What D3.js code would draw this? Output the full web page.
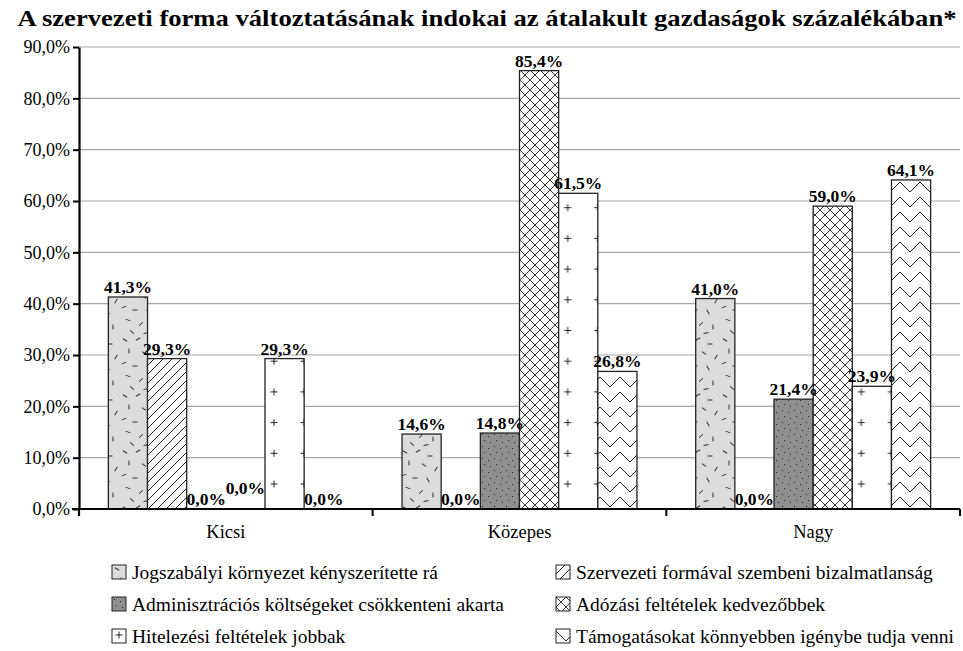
<!DOCTYPE html>
<html>
<head>
<meta charset="utf-8">
<script src="https://cdn.jsdelivr.net/npm/d3@7"></script>
<style>
  html, body { margin: 0; padding: 0; background: #fff; }
  svg { display: block; }
</style>
</head>
<body>
<svg id="chart" width="963" height="651"></svg>
<script>
// Group categories (farm size)
const categories = ["Kicsi", "Közepes", "Nagy"];

// Reasons for changing organisational form (series)
const seriesNames = [
  "Jogszabályi környezet kényszerítette rá",
  "Szervezeti formával szembeni bizalmatlanság",
  "Adminisztrációs költségeket csökkenteni akarta",
  "Adózási feltételek kedvezőbbek",
  "Hitelezési feltételek jobbak",
  "Támogatásokat könnyebben igénybe tudja venni"
];

// Percent values per category, one array per series
const jogszabalyi    = [41.3, 14.6, 41.0];
const bizalmatlansag = [29.3, 0.0, 0.0];
const adminisztracio = [0.0, 14.8, 21.4];
const adozas         = [0.0, 85.4, 59.0];
const hitelezes      = [29.3, 61.5, 23.9];
const tamogatas      = [0.0, 26.8, 64.1];

const yTicks = [0, 10, 20, 30, 40, 50, 60, 70, 80, 90];
const title = "A szervezeti forma változtatásának indokai az átalakult gazdaságok százalékában*";

const seriesValues = [jogszabalyi, bizalmatlansag, adminisztracio, adozas, hitelezes, tamogatas];

const FONT = '"Liberation Serif", "Times New Roman", serif';
const svg = d3.select("#chart");
const plotLeft = 79, plotRight = 960, plotTop = 47, plotBottom = 509;

const x0 = d3.scaleBand().domain(categories).range([plotLeft, plotRight]).paddingInner(0).paddingOuter(0);
const x1 = d3.scaleBand().domain(d3.range(seriesNames.length)).range([0, x0.bandwidth()])
  .paddingInner(0).paddingOuter(0.75);
const y = d3.scaleLinear().domain([0, 90]).range([plotBottom, plotTop]);

const fmt = v => d3.format(".1f")(v).replace(".", ",") + "%";

// ---------- fill patterns ----------
const defs = svg.append("defs");

// 1: light grey with scattered short dashes
const p1 = defs.append("pattern").attr("id", "pat0").attr("patternUnits", "userSpaceOnUse")
  .attr("width", 40).attr("height", 56);
p1.append("rect").attr("width", 40).attr("height", 56).attr("fill", "#dcdcdc");
const dashes = [
  [5, 4, 30], [18, 3, 150], [30, 8, 0], [9, 15, 90], [24, 17, 35], [36, 21, 120],
  [4, 27, 160], [15, 30, 0], [28, 32, 60], [8, 40, 20], [21, 44, 135], [33, 47, 90],
  [12, 52, 40], [26, 53, 170]
];
dashes.forEach(([cx, cy, a]) => {
  p1.append("line").attr("x1", -2.5).attr("x2", 2.5).attr("y1", 0).attr("y2", 0)
    .attr("transform", `translate(${cx},${cy}) rotate(${a})`)
    .attr("stroke", "#333").attr("stroke-width", 1);
});

// 2: forward diagonal hatch
const p2 = defs.append("pattern").attr("id", "pat1").attr("patternUnits", "userSpaceOnUse")
  .attr("width", 9).attr("height", 9);
p2.append("rect").attr("width", 9).attr("height", 9).attr("fill", "#fff");
p2.append("path").attr("d", "M0,9 L9,0 M-2,2 L2,-2 M7,11 L11,7")
  .attr("stroke", "#222").attr("stroke-width", 1);

// 3: dark grey with fine dots
const p3 = defs.append("pattern").attr("id", "pat2").attr("patternUnits", "userSpaceOnUse")
  .attr("width", 12).attr("height", 12);
p3.append("rect").attr("width", 12).attr("height", 12).attr("fill", "#8f8f8f");
[[2, 2], [8, 4], [4, 8], [10, 10]].forEach(([cx, cy]) => {
  p3.append("rect").attr("x", cx).attr("y", cy).attr("width", 1).attr("height", 1).attr("fill", "#222");
});

// 4: diagonal cross-hatch
const p4 = defs.append("pattern").attr("id", "pat3").attr("patternUnits", "userSpaceOnUse")
  .attr("width", 10).attr("height", 10);
p4.append("rect").attr("width", 10).attr("height", 10).attr("fill", "#fff");
p4.append("path").attr("d", "M0,0 L10,10 M0,10 L10,0")
  .attr("stroke", "#222").attr("stroke-width", 0.9);

// 6: zigzag
const p6 = defs.append("pattern").attr("id", "pat5").attr("patternUnits", "userSpaceOnUse")
  .attr("width", 20).attr("height", 15);
p6.append("rect").attr("width", 20).attr("height", 15).attr("fill", "#fff");
p6.append("path").attr("d", "M0,2 L10,12 L20,2 M0,17 L10,27 L20,17 M0,-13 L10,-3 L20,-13")
  .attr("stroke", "#222").attr("stroke-width", 1).attr("fill", "none");

// 5: plus marks, anchored to each bar's left edge
function plusPattern(id, xOff, yOff) {
  const p = defs.append("pattern").attr("id", id).attr("patternUnits", "userSpaceOnUse")
    .attr("x", xOff).attr("y", yOff).attr("width", 30).attr("height", 30.7);
  p.append("rect").attr("width", 30).attr("height", 30.7).attr("fill", "#fff");
  p.append("path").attr("d", "M11.5,15.35 L18.5,15.35 M15,11.85 L15,18.85")
    .attr("stroke", "#222").attr("stroke-width", 1);
}

// ---------- gridlines & axes ----------
svg.append("g").selectAll("line").data(yTicks.filter(t => t > 0)).join("line")
  .attr("x1", plotLeft).attr("x2", plotRight)
  .attr("y1", d => y(d)).attr("y2", d => y(d))
  .attr("stroke", "#a6a6a6").attr("stroke-width", 1.2);

const yAxis = svg.append("g").attr("transform", `translate(${plotLeft},0)`)
  .call(d3.axisLeft(y).tickValues(yTicks).tickFormat(d => d3.format(".1f")(d).replace(".", ",") + "%")
    .tickSize(6).tickSizeOuter(0));
yAxis.attr("font-family", null).attr("font-size", null);
yAxis.select(".domain").attr("stroke", "#000").attr("stroke-width", 2.2);
yAxis.selectAll(".tick line").attr("stroke", "#000").attr("stroke-width", 2);
yAxis.selectAll(".tick text").style("font-family", FONT).style("font-size", "18px")
  .attr("fill", "#000").attr("x", -9);

// ---------- bars ----------
const bars = [];
categories.forEach((c, ci) => {
  seriesValues.forEach((vals, si) => {
    bars.push({ cat: c, ci, si, v: vals[ci] });
  });
});

bars.forEach(b => {
  b.x = x0(b.cat) + x1(b.si);
  b.w = x1.bandwidth();
  if (b.si === 4) {
    b.pid = `plus-${b.ci}`;
    plusPattern(b.pid, b.x + 9 - 15, y(0) - 25 - 15.35);
  } else {
    b.pid = `pat${b.si}`;
  }
});

svg.append("g").selectAll("rect").data(bars.filter(b => b.v > 0)).join("rect")
  .attr("x", d => d.x).attr("width", d => d.w)
  .attr("y", d => y(d.v)).attr("height", d => y(0) - y(d.v))
  .attr("fill", d => `url(#${d.pid})`)
  .attr("stroke", "#222").attr("stroke-width", 1.3);

// x axis
const xAxis = svg.append("g").attr("transform", `translate(0,${plotBottom})`)
  .call(d3.axisBottom(x0).tickSize(0).tickSizeOuter(0));
xAxis.attr("font-family", null).attr("font-size", null);
xAxis.select(".domain").remove();
svg.append("line").attr("x1", plotLeft - 7).attr("x2", plotRight).attr("y1", plotBottom).attr("y2", plotBottom)
  .attr("stroke", "#000").attr("stroke-width", 2.2);
svg.append("g").selectAll("line").data(categories).join("line")
  .attr("x1", d => x0(d) + x0.bandwidth()).attr("x2", d => x0(d) + x0.bandwidth())
  .attr("y1", plotBottom).attr("y2", plotBottom + 7)
  .attr("stroke", "#000").attr("stroke-width", 2);
svg.append("line").attr("x1", plotLeft).attr("x2", plotLeft).attr("y1", plotBottom).attr("y2", plotBottom + 7)
  .attr("stroke", "#000").attr("stroke-width", 2.2);
xAxis.selectAll(".tick text").style("font-family", FONT).style("font-size", "18.5px")
  .attr("fill", "#000").attr("y", 0).attr("dy", 29);

// ---------- value labels ----------
const labelG = svg.append("g");
const placed = [];
bars.forEach(b => {
  let cx = b.x + b.w / 2;
  let by = y(b.v) - 4;
  const t = labelG.append("text").attr("x", cx).attr("y", by)
    .attr("text-anchor", "middle")
    .style("font-family", FONT).style("font-size", "17.5px").style("font-weight", "bold")
    .attr("fill", "#000").text(fmt(b.v));
  const w = t.node().getComputedTextLength();
  // lift a label that would collide with its neighbour
  placed.forEach(p => {
    if (Math.abs(p.cx - cx) < (p.w + w) / 2 && Math.abs(p.y - by) < 12) {
      by = p.y - 11;
    }
  });
  t.attr("y", by);
  placed.push({ cx, y: by, w });
});

// ---------- title ----------
svg.append("text").attr("x", 487).attr("y", 26).attr("text-anchor", "middle")
  .style("font-family", FONT).style("font-size", "24px").style("font-weight", "bold")
  .attr("textLength", 939).attr("lengthAdjust", "spacingAndGlyphs")
  .attr("fill", "#000").text(title);

// ---------- legend ----------
const legend = svg.append("g");
seriesNames.forEach((name, i) => {
  const col = i % 2, row = Math.floor(i / 2);
  const lx = col === 0 ? 112 : 556;
  const ly = 565 + row * 32;
  const g = legend.append("g").attr("transform", `translate(${lx},${ly})`);
  let fill = `url(#pat${i})`;
  if (i === 4) {
    const pp = defs.append("pattern").attr("id", "plus-legend").attr("patternUnits", "userSpaceOnUse")
      .attr("x", lx).attr("y", ly).attr("width", 14).attr("height", 14);
    pp.append("rect").attr("width", 14).attr("height", 14).attr("fill", "#fff");
    pp.append("path").attr("d", "M3.5,7 L10.5,7 M7,3.5 L7,10.5").attr("stroke", "#222").attr("stroke-width", 1);
    fill = "url(#plus-legend)";
  }
  g.append("rect").attr("width", 14).attr("height", 14).attr("fill", fill)
    .attr("stroke", "#222").attr("stroke-width", 1);
  g.append("text").attr("x", 20).attr("y", 14)
    .style("font-family", FONT).style("font-size", "19.5px")
    .attr("fill", "#000").text(name);
});
</script>
</body>
</html>
